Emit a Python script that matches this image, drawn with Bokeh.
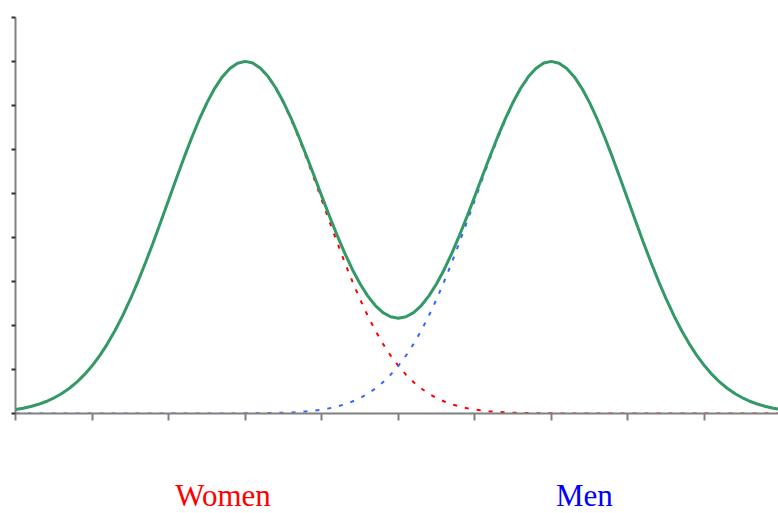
from bokeh.plotting import figure
from bokeh.models import FixedTicker, Range1d
from bokeh.layouts import column
from bokeh.core.properties import value
from bokeh.embed import file_html
from bokeh.resources import INLINE

# x positions (step 0.1 from 0 to 10)
x_vals = [round(i * 0.1, 1) for i in range(101)]

women = [0.089, 0.119, 0.159, 0.209, 0.272, 0.352, 0.449, 0.568, 0.711, 0.882,
         1.083, 1.316, 1.583, 1.886, 2.224, 2.597, 3.002, 3.436, 3.894, 4.369,
         4.852, 5.336, 5.809, 6.262, 6.683, 7.060, 7.385, 7.648, 7.842, 7.960,
         8.000, 7.960, 7.842, 7.648, 7.385, 7.060, 6.683, 6.262, 5.809, 5.336,
         4.852, 4.369, 3.894, 3.436, 3.002, 2.597, 2.224, 1.886, 1.583, 1.316,
         1.083, 0.882, 0.711, 0.568, 0.449, 0.352, 0.272, 0.209, 0.159, 0.119,
         0.089, 0.066, 0.048, 0.035, 0.025, 0.018, 0.012, 0.009, 0.006, 0.004,
         0.003, 0.002, 0.001, 0.001, 0.0, 0.0, 0.0, 0.0, 0.0, 0.0,
         0.0, 0.0, 0.0, 0.0, 0.0, 0.0, 0.0, 0.0, 0.0, 0.0,
         0.0, 0.0, 0.0, 0.0, 0.0, 0.0, 0.0, 0.0, 0.0, 0.0, 0.0]

men = [0.0, 0.0, 0.0, 0.0, 0.0, 0.0, 0.0, 0.0, 0.0, 0.0,
       0.0, 0.0, 0.0, 0.0, 0.0, 0.0, 0.0, 0.0, 0.0, 0.0,
       0.0, 0.0, 0.0, 0.0, 0.0, 0.0, 0.0, 0.001, 0.001, 0.002,
       0.003, 0.004, 0.006, 0.009, 0.012, 0.018, 0.025, 0.035, 0.048, 0.066,
       0.089, 0.119, 0.159, 0.209, 0.272, 0.352, 0.449, 0.568, 0.711, 0.882,
       1.083, 1.316, 1.583, 1.886, 2.224, 2.597, 3.002, 3.436, 3.894, 4.369,
       4.852, 5.336, 5.809, 6.262, 6.683, 7.060, 7.385, 7.648, 7.842, 7.960,
       8.000, 7.960, 7.842, 7.648, 7.385, 7.060, 6.683, 6.262, 5.809, 5.336,
       4.852, 4.369, 3.894, 3.436, 3.002, 2.597, 2.224, 1.886, 1.583, 1.316,
       1.083, 0.882, 0.711, 0.568, 0.449, 0.352, 0.272, 0.209, 0.159, 0.119, 0.089]

total = [w + m for w, m in zip(women, men)]

x_ticks = [0, 1, 2, 3, 4, 5, 6, 7, 8, 9, 10]
y_ticks = [0, 1, 2, 3, 4, 5, 6, 7, 8, 9]

label_names = ["Women", "Men"]
label_x = [2.71, 7.43]
label_colors = ["#FF0000", "#0000FF"]

x_range = Range1d(0, 9.966)

p = figure(width=778, height=430, output_backend="svg", toolbar_location=None,
           x_range=x_range, y_range=Range1d(0, 9),
           min_border_left=15, min_border_right=0, min_border_top=17,
           min_border_bottom=17)
p.outline_line_color = None
p.xgrid.visible = False
p.ygrid.visible = False
p.background_fill_color = "white"
p.border_fill_color = "white"

for ax in (p.xaxis[0], p.yaxis[0]):
    ax.major_label_standoff = 0
    ax.minor_tick_line_color = None
    ax.axis_line_color = "#808080"
    ax.axis_line_width = 2
    ax.major_tick_line_color = "#808080"
    ax.major_tick_line_width = 2
    ax.major_tick_in = 0

p.xaxis[0].ticker = FixedTicker(ticks=x_ticks)
p.xaxis[0].major_label_overrides = {t: "" for t in x_ticks}
p.xaxis[0].major_tick_out = 7
p.yaxis[0].ticker = FixedTicker(ticks=y_ticks)
p.yaxis[0].major_label_overrides = {t: "" for t in y_ticks}
p.yaxis[0].major_tick_out = 4
p.yaxis[0].major_tick_line_color = "#303030"

p.line(x_vals, women, line_color="#FF0000", line_width=2, line_dash="4 8")
p.line(x_vals, men, line_color="#3366FF", line_width=2, line_dash="4 8")
p.line(x_vals, total, line_color="#339966", line_width=3)

# label strip below the chart, sharing the x scale
p2 = figure(width=778, height=83, output_backend="svg", toolbar_location=None,
            x_range=x_range, y_range=Range1d(0, 83),
            x_axis_location=None, y_axis_location=None,
            min_border_left=15, min_border_right=0, min_border_top=0,
            min_border_bottom=0)
p2.outline_line_color = None
p2.xgrid.visible = False
p2.ygrid.visible = False
p2.text(x=label_x, y=[18.5, 18.5], text=label_names, text_color=label_colors,
        text_align="center", text_baseline="alphabetic",
        text_font=value("Liberation Serif"), text_font_size=value("31px"))

layout = column(p, p2, spacing=0)
open("out.html", "w").write(file_html(layout, INLINE))
